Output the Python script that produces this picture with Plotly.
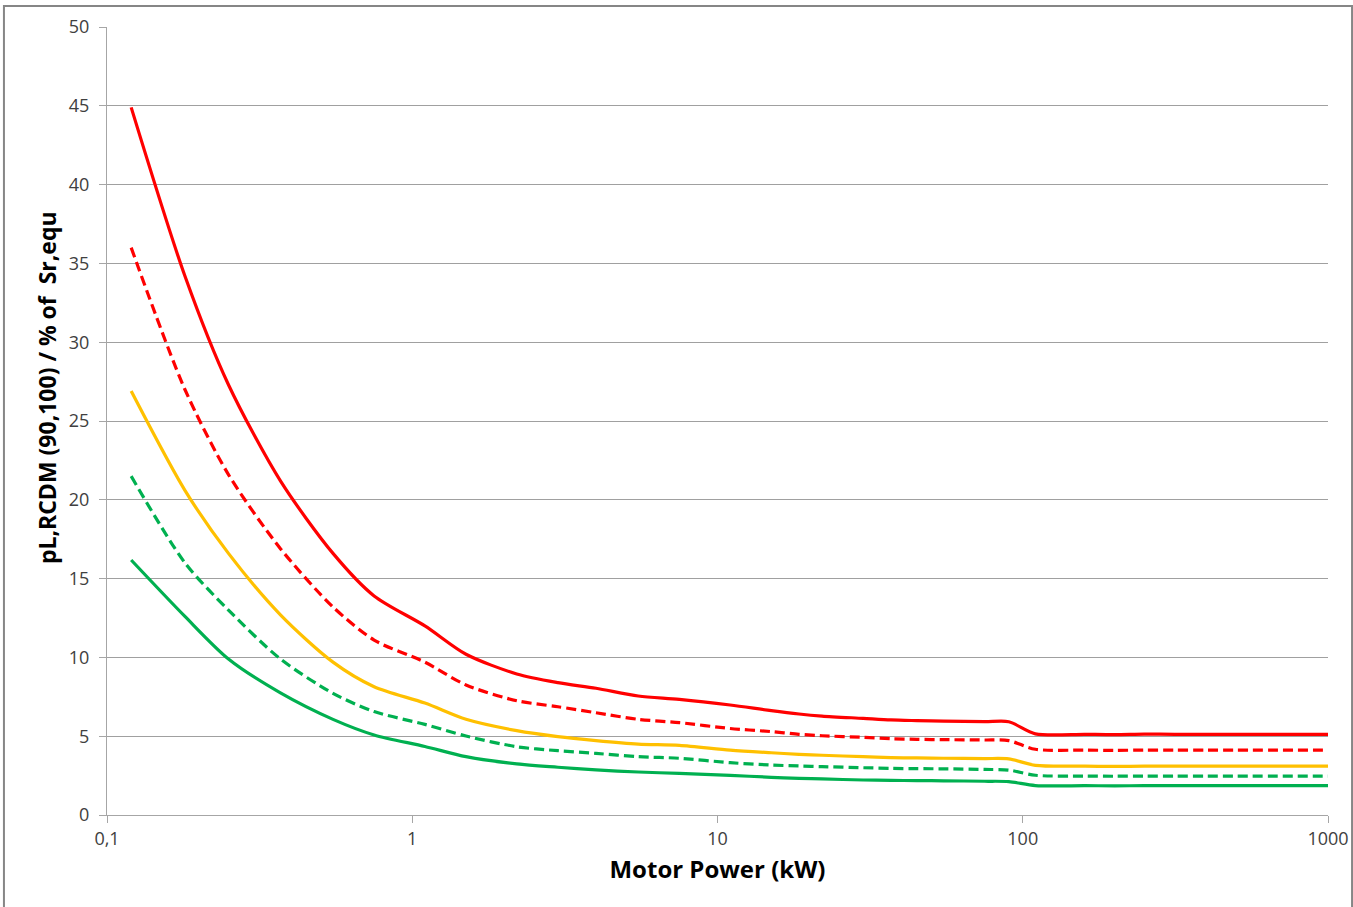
import plotly.graph_objects as go

# Motor power (kW)
power = [0.12, 0.18, 0.25, 0.37, 0.55, 0.75, 1.1, 1.5, 2.2, 3, 4, 5.5, 7.5, 11, 15, 18.5,
         22, 30, 37, 45, 55, 75, 90, 110, 160, 200, 250, 315, 400, 500, 1000]

red_solid = [44.9, 34.2, 27.3, 21.2, 16.6, 13.9, 12.0, 10.2, 8.95, 8.4, 8.04, 7.55, 7.34, 6.98, 6.62, 6.41,
             6.28, 6.13, 6.03, 5.99, 5.96, 5.92, 5.92, 5.15, 5.12, 5.1, 5.13, 5.12, 5.12, 5.12, 5.12]
red_dash = [36.0, 27.0, 21.6, 16.9, 13.2, 11.1, 9.7, 8.25, 7.25, 6.87, 6.49, 6.07, 5.86, 5.49, 5.29, 5.12,
            5.03, 4.93, 4.84, 4.8, 4.78, 4.76, 4.72, 4.17, 4.12, 4.1, 4.12, 4.12, 4.12, 4.12, 4.12]
yellow = [26.9, 20.6, 16.6, 12.7, 9.7, 8.14, 7.1, 6.07, 5.35, 4.97, 4.72, 4.5, 4.42, 4.12, 3.95, 3.85,
          3.79, 3.7, 3.64, 3.62, 3.6, 3.58, 3.56, 3.15, 3.1, 3.08, 3.1, 3.1, 3.1, 3.1, 3.1]
green_dash = [21.5, 16.0, 13.0, 9.9, 7.72, 6.56, 5.75, 5.01, 4.33, 4.08, 3.91, 3.7, 3.6, 3.32, 3.17, 3.11,
              3.07, 3.0, 2.96, 2.94, 2.93, 2.89, 2.85, 2.52, 2.47, 2.46, 2.47, 2.47, 2.47, 2.47, 2.47]
green_solid = [16.18, 12.6, 9.9, 7.75, 6.07, 5.08, 4.35, 3.7, 3.24, 3.03, 2.86, 2.73, 2.64, 2.52, 2.39, 2.33,
               2.29, 2.22, 2.2, 2.18, 2.17, 2.14, 2.12, 1.87, 1.86, 1.85, 1.86, 1.86, 1.86, 1.86, 1.86]

x_tickvals = [0.1, 1, 10, 100, 1000]
x_ticktext = ["0,1", "1", "10", "100", "1000"]
y_tickvals = [0, 5, 10, 15, 20, 25, 30, 35, 40, 45, 50]

x_title = "<b>Motor Power (kW)</b>"
y_title = "<b>pL,RCDM (90,100) / % of  Sr,equ</b>"

RED = "#FF0000"
YELLOW = "#FFC000"
GREEN = "#00B050"

fig = go.Figure()
series = [
    (green_solid, GREEN, "solid"),
    (green_dash, GREEN, "10px,5px"),
    (yellow, YELLOW, "solid"),
    (red_dash, RED, "10px,5px"),
    (red_solid, RED, "solid"),
]
for vals, col, dash in series:
    fig.add_trace(go.Scatter(
        x=power, y=vals, mode="lines",
        line=dict(color=col, width=3.2, dash=dash, shape="spline", smoothing=0.8),
        showlegend=False, hoverinfo="skip"))

font_family = "'Open Sans', sans-serif"

fig.update_layout(
    width=1353, height=907,
    margin=dict(l=107, r=25, t=27, b=92),
    paper_bgcolor="white", plot_bgcolor="white",
    font=dict(family=font_family, size=16, color="#404040"),
    xaxis=dict(
        type="log", range=[-1, 3],
        tickvals=x_tickvals, ticktext=x_ticktext,
        showgrid=False, zeroline=False, automargin=False,
        showline=True, linecolor="#a6a6a6", linewidth=1,
        ticks="outside", ticklen=7, tickcolor="#a6a6a6",
        tickfont=dict(size=18, color="#404040"),
        title=dict(text=x_title, font=dict(size=24, color="#000000"), standoff=12),
    ),
    yaxis=dict(
        range=[0, 50], tickvals=y_tickvals,
        showgrid=True, gridcolor="#a0a0a0", gridwidth=1,
        zeroline=False, automargin=False,
        showline=True, linecolor="#a6a6a6", linewidth=1,
        ticks="outside", ticklen=7, tickcolor="#a6a6a6",
        ticklabelstandoff=6,
        tickfont=dict(size=18, color="#404040"),
    ),
)

fig.add_annotation(text=y_title, xref="paper", yref="paper", x=-0.049, y=0.542,
                   xanchor="center", yanchor="middle", textangle=-90, showarrow=False,
                   font=dict(size=23, color="#000000", family=font_family))

# outer chart border
fig.add_shape(type="rect", xref="paper", yref="paper",
              x0=-0.0844, x1=1.0197, y0=-0.118, y1=1.0267,
              line=dict(color="#868686", width=2), fillcolor="rgba(0,0,0,0)", layer="below")

fig.write_html("out.html", config={"displayModeBar": False},
               post_script="document.body.style.margin='0px';document.body.style.overflow='hidden';")
